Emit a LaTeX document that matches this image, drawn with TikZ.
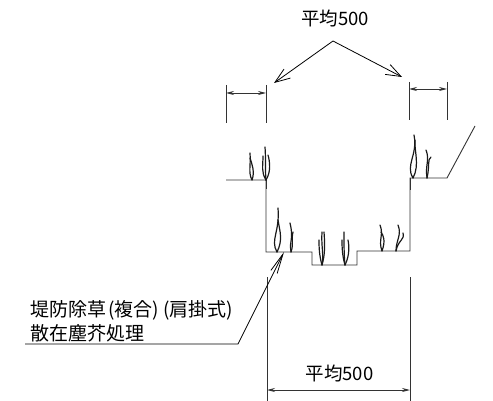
\documentclass[tikz,border=0pt]{standalone}
\usepackage{fontspec}
\setmainfont{Noto Sans CJK JP}
\usetikzlibrary{arrows.meta}
\tikzset{
  px/.style={x=1pt,y=-1pt},
  lbl/.style={inner sep=0pt,font=\fontsize{19pt}{19pt}\selectfont},
  numlbl/.style={inner sep=0pt,font=\fontsize{18.5pt}{18.5pt}\selectfont},
  ln/.style={line width=0.9pt,black!80},
  grass/.style={line width=1.2pt,black!90,line cap=round},
  dimarrow/.style={line width=0.9pt,black!80,{Stealth[length=8pt,width=4pt]}-{Stealth[length=8pt,width=4pt]}},
  leader/.style={line width=0.8pt,black,-{Straight Barb[length=15pt,width=11pt]}},
  longleader/.style={line width=0.8pt,black,-{Straight Barb[length=20pt,width=7pt]}}
}
\newcommand{\gap}{\hspace{2pt}}
\begin{document}
\begin{tikzpicture}[px]
\useasboundingbox (0,0) rectangle (493,401);
\node[numlbl] (t1) at (335,18) {平均500};
\node[numlbl] (t2) at (339.5,373) {平均500};
\node[lbl,anchor=west] (t3) at (30,310) {堤防除草\gap(複合)\gap\gap(肩掛式)};
\node[lbl,anchor=west] (t4) at (30,333) {散在塵芥処理};
\coordinate (apex) at (333,41);
\coordinate (al) at (274,83);
\coordinate (ar) at (402,77);
\draw[leader] (apex) -- (al);
\draw[leader] (apex) -- (ar);
% ground
\draw[ln] (226,180) -- (266,180) -- (266,252) -- (312,252) -- (312,265) -- (357,265) -- (357,251) -- (410,251) -- (410,178) -- (447,178) -- (475,126);
% extensions
\draw[ln] (226,85) -- (226,123);
\draw[ln] (266,85) -- (266,123);
\draw[ln] (409,82) -- (409,120);
\draw[ln] (447,82) -- (447,120);
\draw[ln] (266,180) -- (266,189);
\draw[ln] (410,178) -- (410,190);
\draw[dimarrow] (226,93) -- (266,93);
\draw[dimarrow] (409,89) -- (447,89);
\draw[ln] (267,277) -- (267,401);
\draw[ln] (410,277) -- (410,401);
\draw[dimarrow] (267,390) -- (410,390);
% leader
\coordinate (l0) at (25,344);
\coordinate (l1) at (238,344);
\coordinate (l2) at (284,252);
\draw[longleader] (l0) -- (l1) -- (l2);
% grass
\draw[grass] (252,180) .. controls (248,172) and (251,166) .. (250,153);
\draw[grass] (252,180) .. controls (255,172) and (252,164) .. (250,158);
\draw[grass] (266,180) .. controls (261,172) and (263,166) .. (263,156);
\draw[grass] (266,180) .. controls (271,172) and (270,162) .. (268,155);
\draw[grass] (266,180) .. controls (265,170) and (266,160) .. (265,147);
\draw[grass] (277,252) .. controls (270,240) and (280,232) .. (278,208);
\draw[grass] (277,252) .. controls (283,240) and (280,232) .. (278,220);
\draw[grass] (291,252) .. controls (289,240) and (294,240) .. (290,223);
\draw[grass] (291,252) .. controls (294,243) and (291,240) .. (293,232);
\draw[grass] (322,265) .. controls (319,255) and (319,245) .. (319,240);
\draw[grass] (322,265) .. controls (324,255) and (321,245) .. (322,232);
\draw[grass] (322,265) .. controls (325,255) and (325,245) .. (324,232);
\draw[grass] (345,265) .. controls (342,255) and (342,245) .. (342,240);
\draw[grass] (345,265) .. controls (344,255) and (344,245) .. (344,232);
\draw[grass] (345,265) .. controls (350,255) and (349,245) .. (348,240);
\draw[grass] (382,251) .. controls (378,240) and (384,235) .. (380,225);
\draw[grass] (382,251) .. controls (386,240) and (383,235) .. (381,232);
\draw[grass] (396,251) .. controls (398,240) and (405,240) .. (403,233);
\draw[grass] (396,251) .. controls (396,240) and (402,235) .. (398,225);
\draw[grass] (413,178) .. controls (405,165) and (418,155) .. (414,135);
\draw[grass] (413,178) .. controls (420,165) and (414,150) .. (415,140);
\draw[grass] (427,178) .. controls (425,165) and (430,160) .. (426,150);
\draw[grass] (427,178) .. controls (430,165) and (427,160) .. (431,157);
\end{tikzpicture}
\end{document}
